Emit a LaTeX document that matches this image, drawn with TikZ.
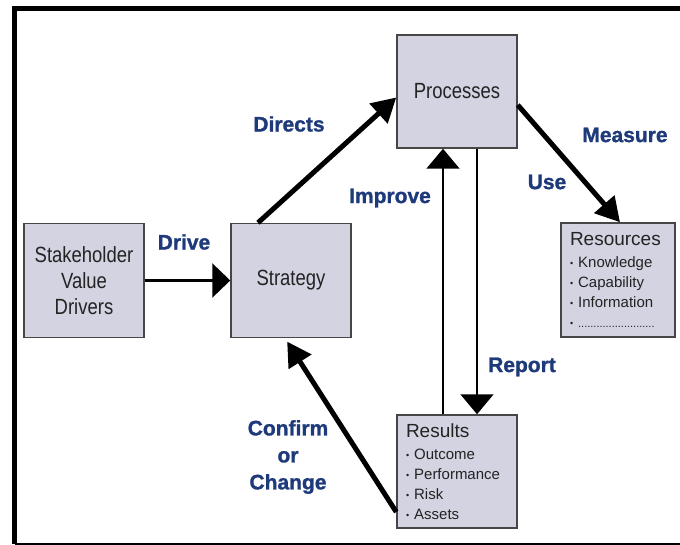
\documentclass[tikz,border=0pt]{standalone}
\usepackage{fontspec}
\setmainfont{Liberation Sans}
\newfontfamily\narrowsans[FakeStretch=0.84]{Liberation Sans}
\usepackage{xcolor}
\usepackage{tikz}
\usetikzlibrary{arrows.meta, positioning}
\definecolor{boxfill}{RGB}{211,211,226}
\definecolor{boxline}{RGB}{70,70,70}
\definecolor{boxtext}{RGB}{35,35,35}
\definecolor{linkblue}{RGB}{30,58,122}
\newcommand{\itm}{\raisebox{0.7pt}{\fontsize{9}{9}\selectfont •}\ }
\tikzset{
    box/.style={rectangle, minimum width=120pt, minimum height=114pt, text centered, draw=boxline, line width=1.5pt, fill=boxfill, text=boxtext, align=center, inner sep=0pt, font=\narrowsans\fontsize{22}{26}\selectfont},
    listbox/.style={rectangle, minimum height=114pt, draw=boxline, line width=1.5pt, fill=boxfill, text=boxtext, align=left, inner xsep=9pt, inner ysep=0pt, font=\fontsize{15}{20}\selectfont},
    linkword/.style={text=linkblue, align=center, inner sep=0pt, font=\bfseries\addfontfeature{FakeBold=1.2}\fontsize{21}{27}\selectfont},
    bigflow/.style={-{Triangle[length=24pt, width=26pt]}, line width=5pt},
    driveflow/.style={-{Triangle[length=18pt, width=34pt]}, line width=3pt},
    thinflow/.style={-{Triangle[length=20pt, width=33pt]}, line width=2pt}
}
\begin{document}
\begin{tikzpicture}[x=1pt, y=-1pt]
    \useasboundingbox (0,0) rectangle (680,545);
    % Frame
    \draw[line width=5pt] (680,8.5) -- (14.5,8.5) -- (14.5,544);
    \draw[line width=2pt] (14.5,544) -- (680,544);

    % Stakeholder value drivers
    \node[box] (drivers) at (84,280.5) {Stakeholder\\Value\\Drivers};

    % Strategy
    \node[box] (strategy) at (291,280.5) {Strategy};

    % Processes
    \node[box, minimum height=113pt] (processes) at (457,91.5) {Processes};

    % Resources
    \node[listbox, text width=96pt] (resources) at (618,280) {{\fontsize{19}{20}\selectfont Resources}\\[2pt]\itm Knowledge\\\itm Capability\\\itm Information\\\itm {\fontsize{11}{11}\selectfont .........................}};

    % Results
    \node[listbox, text width=102pt, minimum height=113pt] (results) at (457,471.5) {{\fontsize{19}{20}\selectfont Results}\\[2pt]\itm Outcome\\\itm Performance\\\itm Risk\\\itm Assets};

    % Link words
    \node[linkword] (drive_txt) at (184,242) {Drive};
    \node[linkword] (directs_txt) at (289,124) {Directs};
    \node[linkword] (improve_txt) at (390,198) {Improve};
    \node[linkword] (measure_txt) at (625,135) {Measure};
    \node[linkword] (use_txt) at (547,182) {Use};
    \node[linkword] (report_txt) at (522,367) {Report};
    \node[linkword] (confirm_txt) at (288,457) {Confirm\\or\\Change};

    % Flows
    \draw[driveflow] (drivers) -- (strategy);
    \draw[bigflow] ([xshift=-33pt]strategy.north) -- ([yshift=-6pt]processes.west);
    \draw[bigflow] ([yshift=-13.5pt]processes.east) -- ([xshift=2pt]resources.north);
    \draw[thinflow] ([xshift=-14pt]results.north) -- ([xshift=-14pt]processes.south);
    \draw[thinflow] ([xshift=20pt]processes.south) -- ([xshift=20pt]results.north);
    \draw[bigflow, shorten >=4pt] ([yshift=-40.5pt]results.west) -- ([xshift=-6pt]strategy.south);
\end{tikzpicture}
\end{document}
